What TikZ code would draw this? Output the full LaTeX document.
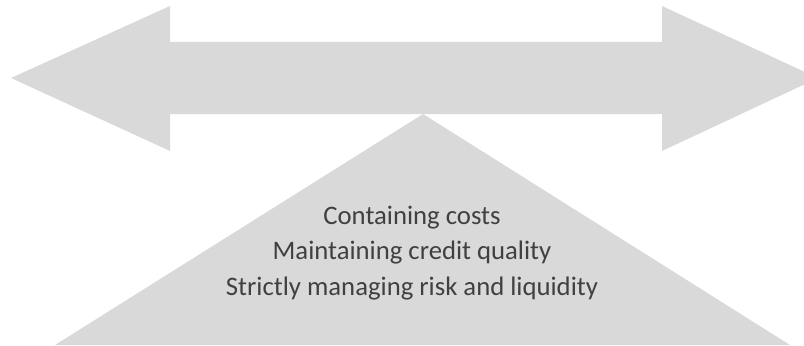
\documentclass[tikz,border=0pt]{standalone}
\usepackage{fontspec}
\setmainfont{Carlito}
\usepackage{pgf,tikz}
\usepackage{xcolor}

\begin{document}
\begin{tikzpicture}[line cap=round,line join=round,x=1cm,y=1cm]
\definecolor{vvvvvv}{rgb}{0.851,0.851,0.851}
\definecolor{ssssss}{rgb}{0.25,0.25,0.25}
\useasboundingbox (0,0) rectangle (20.1,8.625);
\clip (0,0) rectangle (20.1,8.625);
\fill[color=vvvvvv] (0.275,6.675) -- (4.25,8.475) -- (4.25,7.575) -- (16.55,7.575) -- (16.55,8.475) -- (20.45,6.675) -- (16.55,4.85) -- (16.55,5.775) -- (4.25,5.775) -- (4.25,4.85) -- cycle;
\fill[color=vvvvvv] (10.575,5.775) -- (1.375,0) -- (19.75,0) -- cycle;
\draw[color=ssssss] (10.3,3.025) node[anchor=base,font=\fontsize{19}{25}\selectfont] (costs) {Containing costs};
\draw[color=ssssss] (10.3,2.15) node[anchor=base,font=\fontsize{19}{25}\selectfont] (credit) {Maintaining credit quality};
\draw[color=ssssss] (10.3,1.25) node[anchor=base,font=\fontsize{19}{25}\selectfont] (risk) {Strictly managing risk and liquidity};
\end{tikzpicture}
\end{document}
